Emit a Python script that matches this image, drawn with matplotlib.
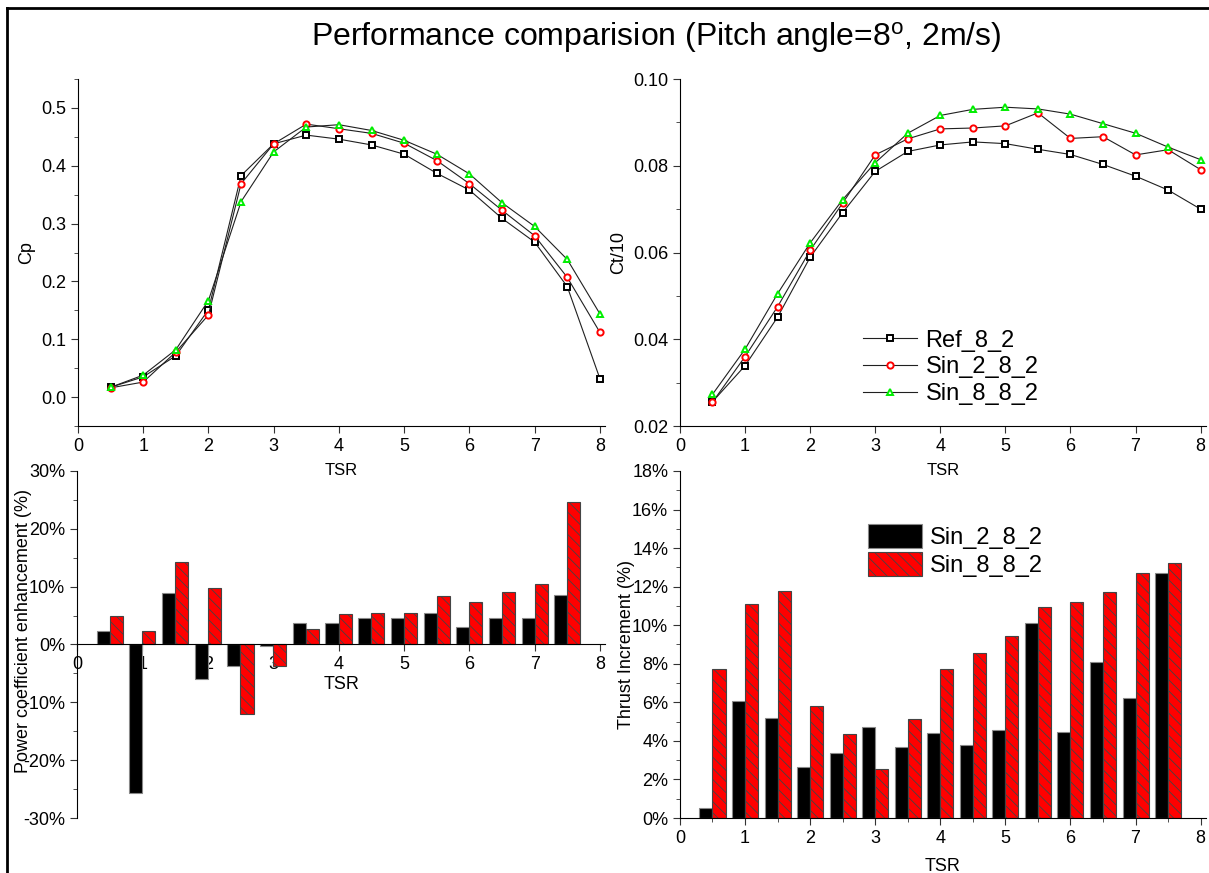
import matplotlib
matplotlib.use("Agg")
import matplotlib.pyplot as plt
from matplotlib.lines import Line2D
from matplotlib.ticker import MultipleLocator, FuncFormatter
import numpy as np

plt.rcParams['font.family'] = ['Liberation Sans', 'DejaVu Sans']
plt.rcParams['mathtext.default'] = 'regular'
plt.rcParams['axes.unicode_minus'] = False
plt.rcParams['hatch.linewidth'] = 0.6

tsr = [0.5, 1.0, 1.5, 2.0, 2.5, 3.0, 3.5, 4.0, 4.5, 5.0, 5.5, 6.0, 6.5, 7.0, 7.5, 8.0]

cp_ref = [0.017, 0.035, 0.0715, 0.151, 0.383, 0.438, 0.453, 0.446, 0.436, 0.420,
          0.387, 0.358, 0.309, 0.268, 0.191, 0.032]
cp_sin2 = [0.016, 0.026, 0.078, 0.142, 0.369, 0.438, 0.472, 0.464, 0.456, 0.439,
           0.409, 0.369, 0.323, 0.279, 0.207, 0.112]
cp_sin8 = [0.017, 0.038, 0.082, 0.167, 0.338, 0.424, 0.467, 0.471, 0.461, 0.444,
           0.420, 0.386, 0.336, 0.295, 0.238, 0.144]

ct_ref = [0.0256, 0.0339, 0.0451, 0.0589, 0.0692, 0.0787, 0.0833, 0.0848, 0.0855, 0.0851,
          0.0838, 0.0826, 0.0803, 0.0776, 0.0744, 0.0700]
ct_sin2 = [0.0255, 0.0360, 0.0475, 0.0605, 0.0714, 0.0825, 0.0862, 0.0885, 0.0887, 0.0892,
           0.0922, 0.0863, 0.0867, 0.0825, 0.0837, 0.0791]
ct_sin8 = [0.0273, 0.0377, 0.0505, 0.0622, 0.0722, 0.0807, 0.0875, 0.0916, 0.0930, 0.0935,
           0.0931, 0.0919, 0.0897, 0.0875, 0.0843, 0.0814]

tsr_bar = [0.5, 1.0, 1.5, 2.0, 2.5, 3.0, 3.5, 4.0, 4.5, 5.0, 5.5, 6.0, 6.5, 7.0, 7.5]
cp_enh_sin2 = [2.4, -25.6, 8.9, -5.9, -3.7, -0.2, 3.7, 3.7, 4.5, 4.6, 5.4, 3.1, 4.6, 4.5, 8.5]
cp_enh_sin8 = [4.9, 2.3, 14.3, 9.8, -12.1, -3.7, 2.6, 5.2, 5.5, 5.5, 8.3, 7.4, 9.0, 10.4, 24.7]
ct_inc_sin2 = [0.52, 6.06, 5.18, 2.66, 3.39, 4.70, 3.68, 4.40, 3.80, 4.58, 10.12, 4.47, 8.10, 6.25, 12.71]
ct_inc_sin8 = [7.74, 11.10, 11.78, 5.79, 4.35, 2.54, 5.11, 7.72, 8.58, 9.45, 10.93, 11.21, 11.74, 12.71, 13.25]

fig = plt.figure(figsize=(12.09, 8.73), dpi=100)

# frame lines at top and left of the image
fig.add_artist(Line2D([7 / 1209, 7 / 1209], [0, 1 - 8 / 873], transform=fig.transFigure,
                      color='black', lw=2))
fig.add_artist(Line2D([7 / 1209, 1], [1 - 8 / 873, 1 - 8 / 873], transform=fig.transFigure,
                      color='black', lw=2))

fig.text(0.543, 1 - 38 / 873, r"Performance comparision (Pitch angle=8$^{o}$, 2m/s)",
         ha='center', va='center', fontsize=23)

fs = 13
ax1 = fig.add_axes([0.0645, 0.512, 0.436, 0.3975])
ax2 = fig.add_axes([0.5624, 0.512, 0.435, 0.3975])
ax3 = fig.add_axes([0.0637, 0.063, 0.437, 0.3975])
ax4 = fig.add_axes([0.5624, 0.063, 0.435, 0.3975])

for ax in (ax1, ax2, ax3, ax4):
    ax.patch.set_visible(False)
    ax.spines['top'].set_visible(False)
    ax.spines['right'].set_visible(False)
    ax.tick_params(which='major', direction='out', length=5, labelsize=fs, color='#333333')
    ax.tick_params(which='minor', direction='out', length=3, color='#333333')
    ax.set_xlim(0, 8.08)
    ax.xaxis.set_major_locator(MultipleLocator(1))

line_kw = dict(color='#202020', lw=0.8, markersize=4.5, markerfacecolor='white', markeredgewidth=1.4)

ax1.plot(tsr, cp_ref, marker='s', markeredgecolor='black', label='Ref_8_2', **line_kw)
ax1.plot(tsr, cp_sin2, marker='o', markeredgecolor='red', label='Sin_2_8_2', **line_kw)
ax1.plot(tsr, cp_sin8, marker='^', markeredgecolor='#00ee00', label='Sin_8_8_2', **line_kw)
ax1.set_ylim(-0.05, 0.55)
ax1.yaxis.set_major_locator(MultipleLocator(0.1))
ax1.yaxis.set_minor_locator(MultipleLocator(0.05))
ax1.set_ylabel('Cp', fontsize=fs)
ax1.set_xlabel('TSR', fontsize=fs - 1, labelpad=6)

l1 = ax2.plot(tsr, ct_ref, marker='s', markeredgecolor='black', label='Ref_8_2', **line_kw)
l2 = ax2.plot(tsr, ct_sin2, marker='o', markeredgecolor='red', label='Sin_2_8_2', **line_kw)
l3 = ax2.plot(tsr, ct_sin8, marker='^', markeredgecolor='#00ee00', label='Sin_8_8_2', **line_kw)
ax2.set_ylim(0.02, 0.10)
ax2.yaxis.set_major_locator(MultipleLocator(0.02))
ax2.yaxis.set_minor_locator(MultipleLocator(0.01))
ax2.yaxis.set_major_formatter(FuncFormatter(lambda v, p: f"{v:.2f}"))
ax2.set_ylabel('Ct/10', fontsize=fs)
ax2.set_xlabel('TSR', fontsize=fs - 1, labelpad=6)
fig.legend(handles=l1 + l2 + l3, loc='upper left', bbox_to_anchor=(0.704, 0.636),
           frameon=False, fontsize=17, handlelength=2.3, handletextpad=0.35,
           labelspacing=0.2, borderpad=0)

pct = FuncFormatter(lambda v, p: f"{v:.0f}%")
w = 0.2
x_bar = np.array(tsr_bar)
black_kw = dict(width=w, align='edge', color='black', edgecolor='#888888', linewidth=0.8)
red_kw = dict(width=w, align='edge', color='#ff0000', edgecolor='#444444', linewidth=0.8,
              hatch='\\\\\\')

ax3.set_axisbelow(True)
ax3.bar(x_bar - w, cp_enh_sin2, **black_kw)
ax3.bar(x_bar, cp_enh_sin8, **red_kw)
ax3.set_ylim(-30, 30)
ax3.spines['bottom'].set_position(('data', 0))
ax3.yaxis.set_major_locator(MultipleLocator(10))
ax3.yaxis.set_minor_locator(MultipleLocator(5))
ax3.yaxis.set_major_formatter(pct)
ax3.set_ylabel('Power coefficient enhancement (%)', fontsize=fs)
ax3.yaxis.set_label_coords(-0.085, 0.54)
ax3.set_xlabel('TSR', fontsize=fs, labelpad=2)

ax4.set_axisbelow(True)
b1 = ax4.bar(x_bar - w, ct_inc_sin2, label='Sin_2_8_2', **black_kw)
b2 = ax4.bar(x_bar, ct_inc_sin8, label='Sin_8_8_2', **red_kw)
ax4.set_ylim(0, 18)
ax4.xaxis.set_minor_locator(MultipleLocator(0.5))
ax4.yaxis.set_major_locator(MultipleLocator(2))
ax4.yaxis.set_minor_locator(MultipleLocator(1))
ax4.yaxis.set_major_formatter(pct)
ax4.set_ylabel('Thrust Increment (%)', fontsize=fs, labelpad=-2)
ax4.set_xlabel('TSR', fontsize=fs, labelpad=8)
fig.legend(handles=[b1, b2], loc='upper left', bbox_to_anchor=(0.708, 0.413),
           frameon=False, fontsize=17, handlelength=2.3, handleheight=1.2,
           handletextpad=0.35, labelspacing=0.1, borderpad=0)

fig.savefig('out.png', dpi=100)
